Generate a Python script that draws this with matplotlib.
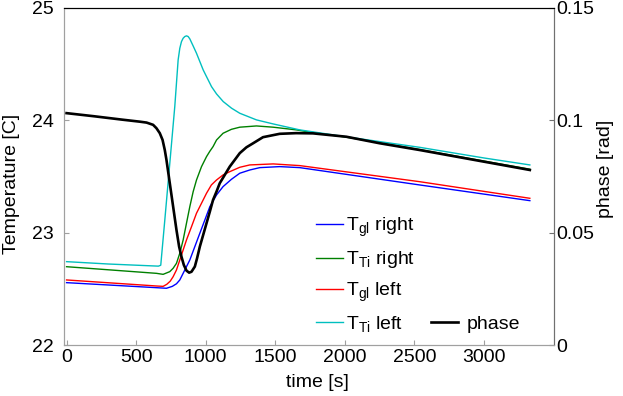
import matplotlib
matplotlib.use("Agg")
import matplotlib.pyplot as plt

plt.rcParams['font.family'] = ['Liberation Sans', 'DejaVu Sans']
plt.rcParams['font.size'] = 14

# ---- data ----
t_gl_right = [0, 650, 718, 760, 790, 814, 850, 886, 922, 958, 994, 1030, 1078, 1125, 1185, 1245,
              1317, 1389, 1532, 1676, 2537, 3330]
T_gl_right = [22.555, 22.510, 22.505, 22.522, 22.545, 22.579, 22.668, 22.757, 22.876, 22.995,
              23.113, 23.232, 23.336, 23.410, 23.475, 23.529, 23.558, 23.579, 23.588, 23.579,
              23.425, 23.285]

t_ti_right = [0, 646, 694, 742, 766, 790, 814, 838, 862, 886, 910, 934, 970, 1006, 1030, 1053,
              1078, 1125, 1185, 1245, 1365, 1485, 1652, 1724, 2011, 2537, 3330]
T_ti_right = [22.697, 22.638, 22.629, 22.653, 22.683, 22.727, 22.817, 22.935, 23.084, 23.232,
              23.365, 23.469, 23.588, 23.677, 23.725, 23.766, 23.825, 23.885, 23.920, 23.939,
              23.950, 23.939, 23.915, 23.900, 23.850, 23.740, 23.565]

t_gl_left = [0, 650, 694, 720, 745, 766, 790, 814, 838, 862, 898, 934, 970, 1006, 1041, 1078,
             1125, 1173, 1245, 1317, 1485, 1676, 2537, 3330]
T_gl_left = [22.579, 22.525, 22.522, 22.540, 22.568, 22.608, 22.668, 22.757, 22.846, 22.935,
             23.053, 23.173, 23.262, 23.351, 23.425, 23.469, 23.514, 23.543, 23.582, 23.603,
             23.612, 23.597, 23.454, 23.306]

t_ti_left = [0, 300, 660, 677, 706, 742, 778, 802, 814, 826, 838, 850, 862, 874, 886, 910, 934,
             958, 982, 1006, 1042, 1078, 1126, 1186, 1245, 1365, 1485, 1676, 2000, 2537, 3000,
             3330]
T_ti_left = [22.742, 22.721, 22.702, 22.710, 23.110, 23.617, 24.125, 24.538, 24.642, 24.701,
             24.731, 24.746, 24.752, 24.746, 24.725, 24.662, 24.597, 24.523, 24.449, 24.389,
             24.300, 24.235, 24.167, 24.108, 24.063, 24.004, 23.968, 23.915, 23.855, 23.760,
             23.665, 23.603]

t_phase = [0, 200, 400, 527, 575, 622, 646, 670, 690, 706, 718, 730, 742, 766, 790, 809, 826,
           843, 862, 881, 898, 922, 938, 958, 982, 1006, 1030, 1053, 1078, 1101, 1137, 1173,
           1209, 1245, 1293, 1341, 1412, 1532, 1650, 1771, 2011, 2250, 2537, 3000, 3330]
phase = [0.1032, 0.1018, 0.1003, 0.0994, 0.0990, 0.0980, 0.0965, 0.0943, 0.0913, 0.0868,
         0.0824, 0.0772, 0.0720, 0.0616, 0.0512, 0.0438, 0.0393, 0.0356, 0.0331, 0.0322,
         0.0326, 0.0349, 0.0386, 0.0438, 0.0490, 0.0542, 0.0594, 0.0646, 0.0683, 0.0720,
         0.0757, 0.0794, 0.0824, 0.0854, 0.0880, 0.0898, 0.0925, 0.0940, 0.0943, 0.0942,
         0.0927, 0.0898, 0.0868, 0.0816, 0.0779]

labels = [r'$\mathregular{T_{gl}}$ right', r'$\mathregular{T_{Ti}}$ right',
          r'$\mathregular{T_{gl}}$ left', r'$\mathregular{T_{Ti}}$ left']
colors = [(0, 0, 1), (0, 0.5, 0), (1, 0, 0), (0, 0.75, 0.75)]

xticks = [0, 500, 1000, 1500, 2000, 2500, 3000]
yticks_left = [22, 23, 24, 25]
yticks_right = [0, 0.05, 0.1, 0.15]
yticklabels_right = ['0', '0.05', '0.1', '0.15']

fig = plt.figure(figsize=(6.23, 3.96), dpi=100)
ax = fig.add_axes([63.5 / 623, 1 - 345 / 396, (553.5 - 63.5) / 623, (345 - 8) / 396])
ax2 = ax.twinx()

series = [(t_gl_right, T_gl_right), (t_ti_right, T_ti_right),
          (t_gl_left, T_gl_left), (t_ti_left, T_ti_left)]
handles = []
for (tt, vv), c, lab in zip(series, colors, labels):
    h, = ax.plot(tt, vv, color=c, lw=1.0, label=lab)
    handles.append(h)

hp, = ax2.plot(t_phase, phase, color='black', lw=1.9, label='phase')

ax.set_xlim(-22, 3500)
ax.set_ylim(22, 25)
ax2.set_ylim(0, 0.15)
ax.set_xticks(xticks)
ax.set_yticks(yticks_left)
ax2.set_yticks(yticks_right)
ax2.set_yticklabels(yticklabels_right)

ax.set_xlabel('time [s]')
ax.set_ylabel('Temperature [C]')
ax2.set_ylabel('phase [rad]')
ax.xaxis.set_label_coords(0.519, -0.085)
ax.yaxis.set_label_coords(-0.088, 0.478)
ax2.yaxis.set_label_coords(1.088, 0.522)

for a in (ax, ax2):
    for s in a.spines.values():
        s.set_linewidth(0.8)
    a.spines['left'].set_color('#a0a0a0')
    a.spines['bottom'].set_color('#a0a0a0')
    a.spines['right'].set_color('#707070')
    a.spines['top'].set_color('black')

ax.tick_params(axis='both', direction='in', length=3.6, width=0.8, color='#a0a0a0')
ax.tick_params(axis='y', pad=7)
ax.tick_params(axis='x', pad=3)
ax2.tick_params(axis='y', direction='in', length=3.6, width=0.8, color='#707070', pad=2)

leg1 = ax2.legend(handles, labels, loc='upper left', bbox_to_anchor=(316 / 623, 1 - 216 / 396),
                  bbox_transform=fig.transFigure, frameon=False, borderpad=0, borderaxespad=0,
                  handlelength=1.4, handletextpad=0.15, labelspacing=0.52)
ax2.add_artist(leg1)
ax2.legend([hp], ['phase'], loc='upper left', bbox_to_anchor=(431 / 623, 1 - 315 / 396),
           bbox_transform=fig.transFigure, frameon=False, borderpad=0, borderaxespad=0,
           handlelength=1.4, handletextpad=0.45)

fig.savefig('out.png', dpi=100)
